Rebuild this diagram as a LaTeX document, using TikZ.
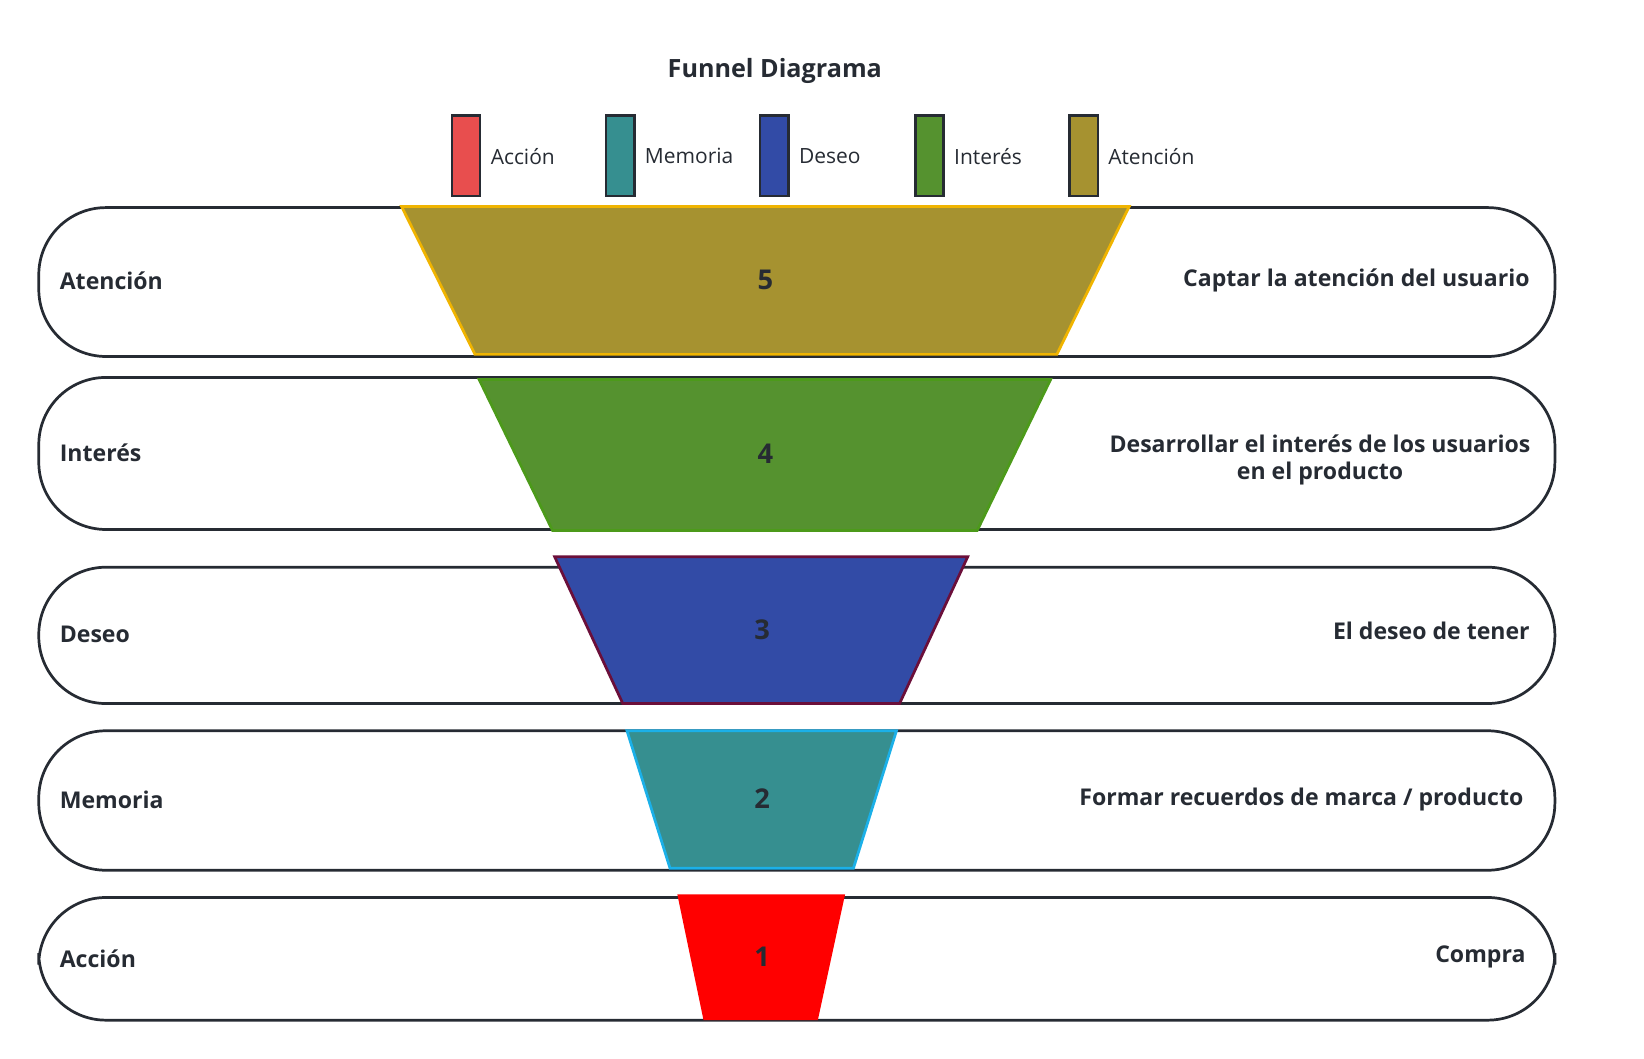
\documentclass[tikz,border=0pt]{standalone}
\usepackage{fontspec}
\setmainfont{Open Sans}
\definecolor{ocre}{HTML}{A69230}
\definecolor{verde}{HTML}{55922F}
\definecolor{azul}{HTML}{324BA6}
\definecolor{teal}{HTML}{368F90}
\definecolor{rojo}{HTML}{E84E4E}
\definecolor{linea}{HTML}{262B33}
\begin{document}
\begin{tikzpicture}[x=0.5pt,y=-0.5pt]
	\tikzset{fila/.style={draw=linea, line width=1.3pt, rounded corners=32pt},
		etiq/.style={font=\bfseries\fontsize{11}{13}\selectfont, text=linea},
		num/.style={font=\bfseries\fontsize{13}{15}\selectfont, text=linea},
		ley/.style={draw=linea, line width=1.2pt},
		leytxt/.style={anchor=west, font=\fontsize{10}{12}\selectfont, text=linea}}
	\useasboundingbox (0,0) rectangle (1568,1010);

	\node[font=\bfseries\fontsize{12}{14}\selectfont, text=linea] (titulo) at (739,68) {Funnel Diagrama};

	% Legend
	\foreach \x/\c/\t in {431/rojo/Acción, 578/teal/Memoria, 725/azul/Deseo, 873/verde/Interés, 1020/ocre/Atención}{
		\draw[ley, fill=\c] (\x,110) rectangle ++(27,77);
		\node[leytxt] at (\x+30,149) {\t};
	}

	% Rows
	\draw[fila] (37,198) rectangle (1483,340);
	\draw[fila] (37,360) rectangle (1483,505);
	\draw[fila] (37,541) rectangle (1483,671);
	\draw[fila] (37,697) rectangle (1483,830);
	\draw[fila] (37,856) rectangle (1483,973);

	% Funnel
	\draw[fill=ocre, draw={rgb,255:red,240;green,180;blue,0}, line width=1.3pt] (383,197) -- (1077,197) -- (1008,338) -- (453,338) -- cycle;
	\draw[fill=verde, draw={rgb,255:red,76;green,154;blue,26}, line width=1.3pt] (457,362) -- (1002,362) -- (932,506) -- (527,506) -- cycle;
	\draw[fill=azul, draw={rgb,255:red,107;green,15;blue,58}, line width=1.3pt] (529,531) -- (923,531) -- (858,671) -- (594,671) -- cycle;
	\draw[fill=teal, draw={rgb,255:red,27;green,176;blue,232}, line width=1.3pt] (598,697) -- (855,697) -- (814,828) -- (639,828) -- cycle;
	\fill[red] (646,853) -- (806,853) -- (780,973) -- (671,973) -- cycle;

	\node[num] (n5) at (730,267) {5};
	\node[num] (n4) at (730,433) {4};
	\node[num] (n3) at (727,601) {3};
	\node[num] (n2) at (727,762) {2};
	\node[num] (n1) at (727,913) {1};

	% Labels
	\node[etiq, anchor=west] (l5) at (50,268) {Atención};
	\node[etiq, anchor=west] (l4) at (50,432) {Interés};
	\node[etiq, anchor=west] (l3) at (50,605) {Deseo};
	\node[etiq, anchor=west] (l2) at (50,763) {Memoria};
	\node[etiq, anchor=west] (l1) at (50,914) {Acción};

	\node[etiq, anchor=east] (r5) at (1466,267) {Captar la atención del usuario};
	\node[etiq, align=center] (r4) at (1259,439) {Desarrollar el interés de los usuarios\\en el producto};
	\node[etiq, anchor=east] (r3) at (1466,602) {El deseo de tener};
	\node[etiq, anchor=east] (r2) at (1460,763) {Formar recuerdos de marca / producto};
	\node[etiq, anchor=east] (r1) at (1462,913) {Compra};
\end{tikzpicture}
\end{document}
